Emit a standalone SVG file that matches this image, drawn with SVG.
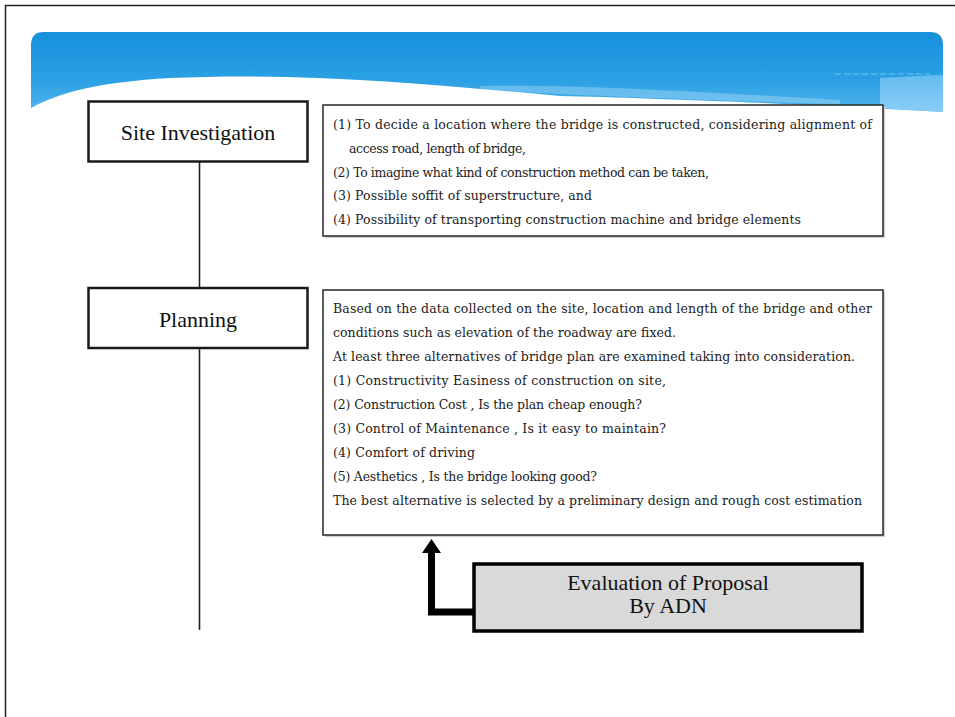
<svg xmlns="http://www.w3.org/2000/svg" width="955" height="717" viewBox="0 0 955 717">
  <defs>
    <linearGradient id="bannerFill" x1="0" y1="0" x2="0" y2="1">
      <stop offset="0" stop-color="#1590dc"/>
      <stop offset="0.6" stop-color="#2ba0e4"/>
      <stop offset="1" stop-color="#52b4ec"/>
    </linearGradient>
    <linearGradient id="bannerTail" x1="0" y1="0" x2="0" y2="1">
      <stop offset="0" stop-color="#6cc0f2" stop-opacity="0.9"/>
      <stop offset="1" stop-color="#8fd0f6" stop-opacity="0.9"/>
    </linearGradient>
  </defs>
  <style>
    .label { font-family: "Liberation Serif", "Times New Roman", serif; font-size: 22px; fill: #111; text-anchor: middle; }
    .body { font-family: "DejaVu Serif", "Liberation Serif", serif; font-size: 12.5px; fill: #222; }
    .stage { fill: #fff; stroke: #1a1a1a; stroke-width: 2.5; }
    .note { fill: #fff; stroke: #333; stroke-width: 1.6; }
    .shadow { fill: #cfcfcf; }
    .spine { stroke: #222; stroke-width: 1.6; fill: none; }
    .feed { stroke: #000; stroke-width: 7; fill: none; }
  </style>

  <!-- page frame -->
  <rect x="0" y="0" width="955" height="717" fill="#fff"/>
  <path d="M955,5.5 H5.5 V717" fill="none" stroke="#222" stroke-width="1.5"/>

  <!-- title banner with white swoosh -->
  <path d="M31,45 Q31,32 44,32 H930 Q943,32 943,45 V112 C800,104 650,98 560,96 C430,84 300,72 170,78 C100,82 60,92 31,108 Z" fill="url(#bannerFill)"/>
  <path d="M880,78 Q915,76 943,75 V112 Q910,110 880,108 Z" fill="url(#bannerTail)"/>
  <path d="M480,86 C580,84 700,92 840,100 L840,104 C700,100 600,96 480,90 Z" fill="#bfe4fa" opacity="0.35"/>
  <path d="M835,74 H930" fill="none" stroke="#a8daf8" stroke-width="1" stroke-dasharray="6 3" opacity="0.6"/>

  <!-- connectors -->
  <g id="connectors">
    <line class="spine" x1="199.5" y1="162" x2="199.5" y2="288"/>
    <line class="spine" x1="199.5" y1="348" x2="199.5" y2="630"/>
    <path class="feed" d="M474,612 H431.5 V551"/>
    <polygon points="431.5,539 441,553 422,553" fill="#000"/>
  </g>

  <!-- stage: site investigation -->
  <g id="site-investigation">
    <rect class="stage" x="88.5" y="101.5" width="219" height="60"/>
    <text class="label" x="198" y="140">Site Investigation</text>
  </g>

  <!-- stage: planning -->
  <g id="planning">
    <rect class="stage" x="88.5" y="288" width="219" height="60"/>
    <text class="label" x="198" y="327">Planning</text>
  </g>

  <!-- site investigation notes -->
  <g id="site-notes">
    <rect class="shadow" x="325" y="107" width="560" height="131"/>
    <rect class="note" x="323" y="105" width="560" height="131"/>
    <text class="body" x="333" y="129" textLength="539" lengthAdjust="spacing">(1) To decide a location where the bridge is constructed, considering alignment of</text>
    <text class="body" x="349" y="153" textLength="177" lengthAdjust="spacing">access road, length of bridge,</text>
    <text class="body" x="333" y="177" textLength="376" lengthAdjust="spacing">(2) To imagine what kind of construction method can be taken,</text>
    <text class="body" x="333" y="200" textLength="259" lengthAdjust="spacing">(3) Possible soffit of superstructure, and</text>
    <text class="body" x="333" y="224" textLength="468" lengthAdjust="spacing">(4) Possibility of transporting construction machine and bridge elements</text>
  </g>

  <!-- planning notes -->
  <g id="planning-notes">
    <rect class="shadow" x="325" y="292" width="560" height="245"/>
    <rect class="note" x="323" y="290" width="560" height="245"/>
    <text class="body" x="333" y="313" textLength="539" lengthAdjust="spacing">Based on the data collected on the site, location and length of the bridge and other</text>
    <text class="body" x="333" y="337" textLength="343" lengthAdjust="spacing">conditions such as elevation of the roadway are fixed.</text>
    <text class="body" x="333" y="361" textLength="522" lengthAdjust="spacing">At least three alternatives of bridge plan are examined taking into consideration.</text>
    <text class="body" x="333" y="385" textLength="333" lengthAdjust="spacing">(1) Constructivity   Easiness of construction on site,</text>
    <text class="body" x="333" y="409" textLength="309" lengthAdjust="spacing">(2) Construction Cost , Is the plan cheap enough?</text>
    <text class="body" x="333" y="433" textLength="333" lengthAdjust="spacing">(3) Control of Maintenance , Is it easy to maintain?</text>
    <text class="body" x="333" y="457" textLength="142" lengthAdjust="spacing">(4) Comfort of driving</text>
    <text class="body" x="333" y="481" textLength="264" lengthAdjust="spacing">(5) Aesthetics , Is the bridge looking good?</text>
    <text class="body" x="333" y="505" textLength="529" lengthAdjust="spacing">The best alternative is selected by a preliminary design and rough cost estimation</text>
  </g>

  <!-- evaluation step -->
  <g id="evaluation">
    <rect x="474" y="564" width="388" height="67" fill="#d9d9d9" stroke="#000" stroke-width="3.5"/>
    <text class="label" x="668" y="590">Evaluation of Proposal</text>
    <text class="label" x="668" y="613">By ADN</text>
  </g>
</svg>
